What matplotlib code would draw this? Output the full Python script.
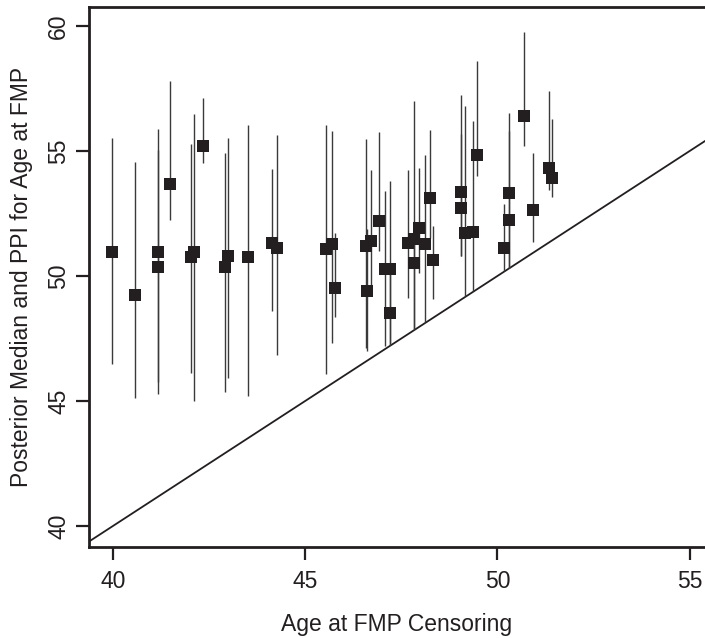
"""Posterior median and PPI for age at FMP vs. age at FMP censoring."""

import matplotlib
matplotlib.use('Agg')
import matplotlib.pyplot as plt
import numpy as np

# === Data ===
censor_age = [39.97, 40.58, 41.17, 41.17, 41.49, 42.02, 42.10, 42.35, 42.91, 42.99,
              43.52, 44.13, 44.27, 45.54, 45.70, 45.77, 46.57, 46.60, 46.72, 46.92,
              47.07, 47.20, 47.20, 47.66, 47.84, 47.84, 47.96, 48.11, 48.25, 48.33,
              49.04, 49.04, 49.16, 49.37, 49.48, 50.16, 50.31, 50.31, 50.69, 50.93,
              51.35, 51.43]
post_median = [50.94, 49.23, 50.97, 50.37, 53.67, 50.76, 50.94, 55.20, 50.37, 50.80,
               50.76, 51.30, 51.13, 51.07, 51.27, 49.53, 51.19, 49.40, 51.38, 52.18,
               50.27, 50.27, 48.53, 51.33, 51.47, 50.50, 51.90, 51.27, 53.10, 50.63,
               53.37, 52.73, 51.73, 51.77, 54.82, 51.13, 53.33, 52.23, 56.38, 52.63,
               54.31, 53.91]
ppi_low = [46.47, 45.10, 45.27, 45.74, 52.24, 46.13, 45.00, 54.50, 45.34, 45.93,
           45.20, 48.60, 46.83, 46.07, 47.31, 48.37, 47.13, 47.00, 49.40, 51.00,
           47.20, 47.25, 47.25, 49.10, 47.87, 47.87, 50.13, 48.16, 51.53, 49.07,
           50.80, 50.80, 49.20, 49.40, 54.00, 50.20, 50.33, 50.33, 55.20, 51.37,
           53.43, 53.16]
ppi_high = [55.51, 54.57, 55.87, 55.04, 57.78, 55.28, 56.49, 57.12, 54.92, 55.52,
            56.04, 54.28, 55.65, 56.05, 55.80, 51.71, 55.48, 51.87, 54.23, 55.76,
            53.40, 53.80, 50.30, 54.23, 56.98, 51.50, 54.31, 54.84, 55.83, 52.00,
            57.23, 55.67, 56.80, 56.19, 58.60, 52.87, 56.53, 55.80, 59.76, 54.91,
            57.40, 56.27]

x_ticks = [40, 45, 50, 55]
y_ticks = [40, 45, 50, 55, 60]

plt.rcParams['font.family'] = ['Liberation Sans', 'DejaVu Sans']
plt.rcParams['font.size'] = 16.5

INK = '#231f20'

# axes box runs past the right edge of the image, as in the reference
fig = plt.figure(figsize=(7.05, 6.38), dpi=100)
ax = fig.add_axes([89 / 705, 1 - 546.7 / 638, 620 / 705, 540 / 638])

x = np.array(censor_age)
med = np.array(post_median)
lo = np.array(ppi_low)
hi = np.array(ppi_high)

# PPI whiskers, then medians on top
ax.vlines(x, lo, hi, color='#3a3a3a', linewidth=1.0, zorder=2)
ax.plot(x, med, 's', color=INK, markersize=8, markeredgewidth=0, zorder=3)

# line of equality
ax.axline((40, 40), slope=1, color=INK, linewidth=1.3, zorder=1)

ax.set_xlim(39.376, 39.376 + 620 / 38.45)
ax.set_ylim(39.17, 60.77)
ax.set_xticks(x_ticks)
ax.set_yticks(y_ticks)
ax.set_yticklabels([str(v) for v in y_ticks], rotation=90, va='center')

for side in ['left', 'bottom', 'top', 'right']:
    ax.spines[side].set_linewidth(2.0)
    ax.spines[side].set_color(INK)
ax.tick_params(direction='out', length=9.5, width=1.6, color=INK, labelcolor=INK)
ax.tick_params(axis='x', pad=7)
ax.tick_params(axis='y', pad=4)

ax.set_xlabel('Age at FMP Censoring', color=INK)
ax.set_ylabel('Posterior Median and PPI for Age at FMP', color=INK)
ax.xaxis.set_label_coords(0.5 * 615.5 / 620, (546.7 - 624) / 540, transform=ax.transAxes)
ax.yaxis.set_label_coords((22 - 89) / 620, 0.5, transform=ax.transAxes)
ax.xaxis.label.set_va('center')
ax.yaxis.label.set_va('center')

fig.savefig('out.png', dpi=100)
